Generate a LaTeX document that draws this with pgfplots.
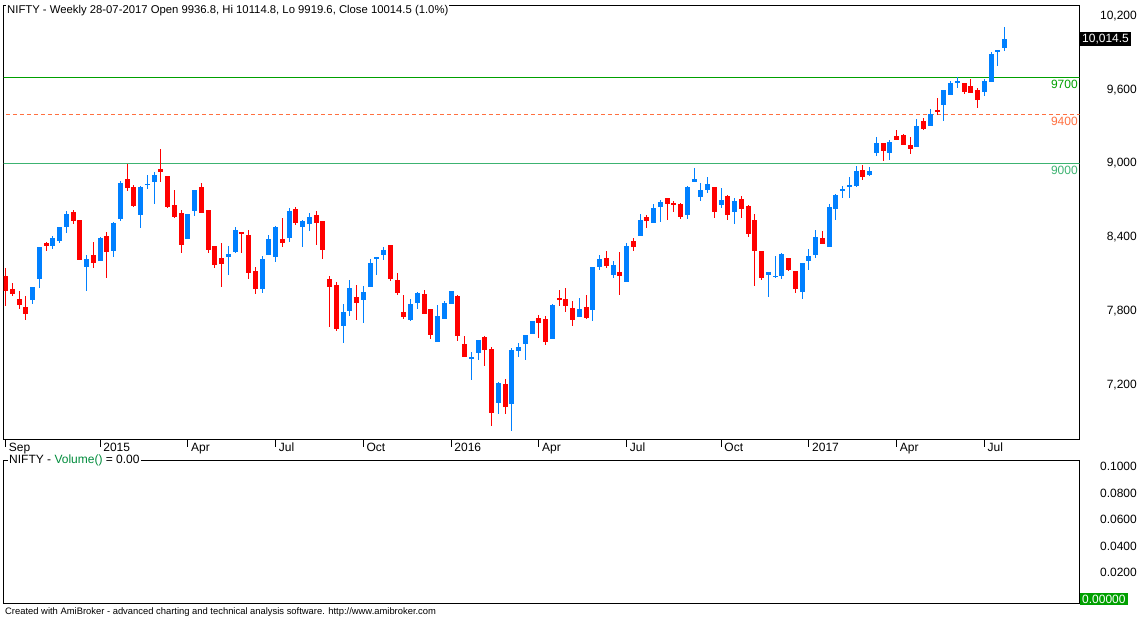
\documentclass[border=0pt]{standalone}
\usepackage{pgfplots}
\pgfplotsset{compat=1.18}
\usepackage{pgfplotstable}
\usepackage{fontspec}
\setmainfont{Liberation Sans}
\definecolor{cblue}{RGB}{0,128,255}
\definecolor{cred}{RGB}{255,0,0}
\definecolor{lgreen}{RGB}{0,160,0}
\definecolor{lorange}{RGB}{255,112,64}
\definecolor{lsea}{RGB}{60,179,113}
\definecolor{volgreen}{RGB}{0,140,60}
\definecolor{boxgreen}{RGB}{0,160,0}

% up (blue) weeks: index, open, high, low, close
\pgfplotstableread{
i o h l c
4 7892 7995 7860 7995
5 8063 8320 7990 8320
7 8331 8409 8306 8393
8 8371 8482 8355 8482
9 8485 8612 8436 8588
12 8160 8252 7965 8222
14 8209 8401 8209 8393
16 8290 8523 8241 8515
17 8550 8856 8534 8840
20 8582 8815 8474 8807
21 8829 8907 8791 8834
22 8848 8934 8669 8905
27 8388 8593 8388 8588
28 8615 8783 8574 8783
33 8242 8328 8093 8263
34 8282 8483 8272 8458
38 7982 8247 7949 8223
39 8258 8418 8258 8385
40 8242 8491 8201 8483
42 8396 8637 8364 8613
44 8485 8540 8323 8531
45 8510 8596 8453 8564
50 7681 7857 7543 7792
51 7803 8052 7762 7987
53 7892 8003 7698 7955
54 7998 8223 7998 8190
55 8225 8239 8093 8239
56 8255 8320 8215 8296
60 7727 7898 7719 7857
61 7865 7955 7817 7947
64 7549 7849 7549 7760
65 7735 7882 7735 7865
66 7857 7963 7857 7963
69 7411 7467 7240 7427
70 7459 7565 7402 7565
73 7053 7224 6964 7216
75 7045 7500 6826 7484
76 7476 7541 7427 7508
77 7533 7606 7403 7606
78 7614 7719 7614 7719
81 7573 7857 7573 7849
85 7752 7906 7752 7817
87 7809 8158 7719 8158
88 8158 8255 8134 8223
90 8093 8207 8069 8174
92 8036 8353 8036 8329
94 8410 8588 8410 8540
96 8515 8670 8515 8637
97 8645 8702 8523 8686
101 8580 8816 8548 8808
102 8848 8962 8848 8873
103 8727 8840 8694 8783
104 8783 8889 8759 8832
106 8662 8800 8637 8702
108 8605 8718 8507 8694
113 8093 8117 7914 8117
114 8077 8247 8069 8085
115 8085 8272 8061 8264
118 7955 8191 7898 8191
119 8207 8304 8133 8247
120 8255 8458 8231 8401
122 8320 8669 8320 8645
123 8629 8751 8539 8742
124 8775 8816 8718 8791
125 8816 8889 8718 8824
126 8816 8978 8807 8937
128 8905 8970 8897 8937
129 9084 9214 9059 9165
131 9084 9189 9027 9173
135 9133 9360 9133 9303
137 9303 9441 9303 9401
139 9474 9596 9344 9596
140 9555 9669 9555 9652
141 9652 9701 9612 9669
145 9579 9685 9547 9669
146 9661 9904 9661 9888
147 9904 9920 9790 9920
148 9936.8 10114.8 9919.6 10014.5
}\upweeks

% down (red) weeks: index, open, high, low, close
\pgfplotstableread{
i o h l c
0 8085 8150 7844 7966
1 7979 8028 7925 7941
2 7898 7963 7816 7852
3 7833 7922 7727 7778
6 8352 8360 8290 8331
10 8604 8620 8509 8534
11 8539 8539 8217 8217
13 8255 8360 8152 8193
15 8409 8442 8071 8282
18 8872 8999 8775 8802
19 8807 8829 8645 8656
23 8953 9116 8848 8929
24 8896 8896 8637 8645
25 8661 8783 8555 8563
26 8596 8620 8274 8339
29 8807 8840 8599 8599
30 8621 8621 8274 8296
31 8328 8328 8152 8174
32 8231 8353 7998 8185
35 8442 8442 8274 8429
36 8418 8458 8060 8109
37 8125 8158 7941 7982
41 8385 8556 8323 8355
43 8629 8645 8502 8518
46 8580 8612 8339 8518
47 8531 8531 8223 8298
48 8060 8085 7673 7998
49 8012 8036 7633 7649
52 7914 8011 7730 7868
57 8336 8336 8047 8060
58 8052 8109 7933 7949
59 7792 7930 7738 7754
62 7938 7971 7776 7776
63 7817 7817 7573 7606
67 7922 7930 7557 7597
68 7532 7597 7427 7427
71 7589 7597 7354 7484
72 7492 7508 6867 6972
74 7208 7248 6964 7021
79 7744 7768 7581 7703
80 7736 7760 7525 7549
82 7906 7971 7841 7890
83 7898 7987 7792 7841
84 7825 7882 7679 7728
86 7833 7931 7736 7744
89 8231 8288 8150 8166
91 8117 8280 7931 8085
93 8369 8394 8288 8320
95 8564 8580 8475 8532
98 8718 8718 8540 8670
99 8675 8694 8605 8664
100 8670 8678 8548 8564
105 8808 8808 8556 8605
107 8735 8743 8540 8580
109 8710 8735 8556 8629
110 8653 8662 8402 8426
111 8540 8588 8004 8288
112 8288 8288 8052 8069
116 8231 8231 8126 8134
117 8126 8126 7947 7979
121 8393 8450 8345 8345
127 8946 8986 8864 8889
130 9165 9165 9019 9100
132 9222 9270 9189 9189
133 9230 9238 9149 9149
134 9149 9214 9076 9116
136 9344 9368 9271 9279
138 9433 9531 9392 9428
142 9652 9652 9563 9579
143 9628 9689 9571 9571
144 9596 9612 9449 9514
}\downweeks

\pgfplotsset{
  wick/.style={draw=none, mark=none, forget plot,
    error bars/.cd, y dir=both, y explicit, error mark=none,
    error bar style={draw=#1, line width=1pt}},
  body/.style={draw=none, mark=none, forget plot,
    error bars/.cd, y dir=both, y explicit, error mark=none,
    error bar style={draw=#1, line width=5pt}},
}

\begin{document}
\begin{tikzpicture}
\useasboundingbox[fill=white] (0,0) rectangle (1140pt,619pt);

% ---------------- price panel ----------------
\begin{axis}[
  at={(3.5pt,179.5pt)}, anchor=south west,
  scale only axis, width=1076pt, height=434pt,
  xmin=-0.326, xmax=159.08,
  ymin=6753.4, ymax=10286.1,
  axis line style={black, line width=1pt},
  clip mode=individual,
  xtick={0,14,27,40,53,66,79,92,106,119,132,145},
  xticklabels={Sep,2015,Apr,Jul,Oct,2016,Apr,Jul,Oct,2017,Apr,Jul},
  xtick pos=bottom,
  xtick align=outside, ytick align=inside,
  major tick length=7pt,
  xtick style={black, line width=1pt},
  ytick style={draw=none},
  x tick label style={font=\fontsize{12}{14}\selectfont, anchor=north west, inner sep=0pt, xshift=3pt, yshift=3.5pt},
  ytick={7200,7800,8400,9000,9600,10200},
  yticklabel pos=right,
  scaled y ticks=false,
  y tick label style={font=\fontsize{12}{14}\selectfont, anchor=east, inner sep=0pt, xshift=57.5pt,
    /pgf/number format/.cd, 1000 sep={,}, assume math mode=true},
]
% reference levels
\addplot[draw=lgreen, line width=1.2pt, mark=none, forget plot] coordinates {(-1,9700) (160,9700)};
\addplot[draw=lorange, line width=1pt, mark=none, dash pattern=on 4pt off 3pt, forget plot] coordinates {(-1,9400) (160,9400)};
\addplot[draw=lsea, line width=1.2pt, mark=none, forget plot] coordinates {(-1,9000) (160,9000)};

% wicks
\addplot[wick=cred] table[x=i, y expr={(\thisrow{h}+\thisrow{l})/2}, y error expr={(\thisrow{h}-\thisrow{l})/2}] {\downweeks};
\addplot[wick=cblue] table[x=i, y expr={(\thisrow{h}+\thisrow{l})/2}, y error expr={(\thisrow{h}-\thisrow{l})/2}] {\upweeks};
% bodies
\addplot[body=cred] table[x=i, y expr={(\thisrow{o}+\thisrow{c})/2}, y error expr={max(abs(\thisrow{o}-\thisrow{c})/2,5)}] {\downweeks};
\addplot[body=cblue] table[x=i, y expr={(\thisrow{o}+\thisrow{c})/2}, y error expr={max(abs(\thisrow{o}-\thisrow{c})/2,5)}] {\upweeks};

\node[anchor=north east, inner sep=0pt, text=lgreen, font=\fontsize{12}{14}\selectfont, xshift=-1.6pt, yshift=-2.5pt] at (axis cs:159.08,9700) {9700};
\node[anchor=north east, inner sep=0pt, text=lorange, font=\fontsize{12}{14}\selectfont, xshift=-1.6pt, yshift=-2.5pt] at (axis cs:159.08,9400) {9400};
\node[anchor=north east, inner sep=0pt, text=lsea, font=\fontsize{12}{14}\selectfont, xshift=-1.6pt, yshift=-2.5pt] at (axis cs:159.08,9000) {9000};

\node[anchor=west, fill=black, text=white, inner xsep=2pt, inner ysep=2pt, font=\fontsize{12}{14}\selectfont, xshift=0.5pt] at (axis cs:159.08,10014.5) {10,014.5};

\node[anchor=west, fill=white, inner xsep=1pt, inner ysep=1pt, font=\fontsize{11.3}{13}\selectfont, xshift=2.5pt, yshift=-5.5pt] at (rel axis cs:0,1) {NIFTY - Weekly 28-07-2017 Open 9936.8, Hi 10114.8, Lo 9919.6, Close 10014.5 (1.0\%)};
\end{axis}

% ---------------- volume panel ----------------
\begin{axis}[
  at={(3.5pt,15.5pt)}, anchor=south west,
  scale only axis, width=1076pt, height=143pt,
  xmin=-0.326, xmax=159.08,
  ymin=-0.0034, ymax=0.10453,
  axis line style={black, line width=1pt},
  clip mode=individual,
  xtick=\empty,
  ytick={0.02,0.04,0.06,0.08,0.1},
  ytick style={draw=none},
  yticklabel pos=right,
  scaled y ticks=false,
  y tick label style={font=\fontsize{12}{14}\selectfont, anchor=east, inner sep=0pt, xshift=57.5pt,
    /pgf/number format/.cd, fixed, fixed zerofill, precision=4, assume math mode=true},
]
\addplot[draw=none, mark=none, forget plot] coordinates {(0,0) (148,0)};
\node[anchor=west, fill=white, inner xsep=1pt, inner ysep=1pt, font=\fontsize{12}{14}\selectfont, xshift=4.5pt] at (rel axis cs:0,1) {NIFTY - \textcolor{volgreen}{Volume()} = 0.00};
\node[anchor=west, fill=boxgreen, text=white, inner xsep=2pt, inner ysep=2pt, font=\fontsize{12}{14}\selectfont, xshift=0.5pt] at (axis cs:159.08,0) {0.00000};
\end{axis}

\node[anchor=west, inner sep=0pt, font=\fontsize{9.4}{11}\selectfont] at (5pt,7pt) {Created with AmiBroker - advanced charting and technical analysis software. http://www.amibroker.com};
\end{tikzpicture}
\end{document}
